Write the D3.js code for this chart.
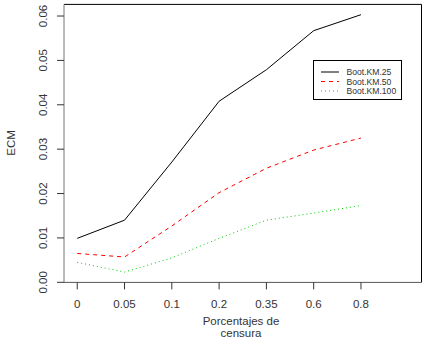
<!DOCTYPE html>
<html>
<head>
<meta charset="utf-8">
<script src="https://cdn.jsdelivr.net/npm/d3@7"></script>
<style>
  body { margin: 0; background: #fff; }
  text { font-family: "Liberation Sans", Arial, sans-serif; }
</style>
</head>
<body>
<div class="chart"></div>
<script>
// ECM vs censoring percentage

const width = 426
const height = 340

const censura = ['0', '0.05', '0.1', '0.2', '0.35', '0.6', '0.8']
const km25 = [0.0099, 0.0140, 0.0271, 0.0408, 0.0479, 0.0567, 0.0603]
const km50 = [0.0065, 0.0057, 0.0127, 0.0202, 0.0257, 0.0298, 0.0325]
const km100 = [0.0045, 0.0023, 0.0055, 0.0099, 0.0140, 0.0156, 0.0173]
const yTicks = [0, 0.01, 0.02, 0.03, 0.04, 0.05, 0.06]

const series = [
    {name: 'Boot.KM.25', values: km25, color: '#000', dash: null},
    {name: 'Boot.KM.50', values: km50, color: '#ff0000', dash: '4,4'},
    {name: 'Boot.KM.100', values: km100, color: '#00cd00', dash: '1,3'}
]

const plotL = 64, plotR = 421.5, plotT = 4.4, plotB = 282.4

const svg = d3.select('.chart')
    .append('svg')
    .attr('width', width)
    .attr('height', height)

// x runs 1..n+1 (room for the legend), R style 4% padding
const n = censura.length
const xPad = n * 0.04
const x = d3.scaleLinear()
    .domain([1 - xPad, n + 1 + xPad])
    .range([plotL, plotR])

const allY = km25.concat(km50, km100)
const [yMin, yMax] = d3.extent(allY)
const yPad = (yMax - yMin) * 0.04
const y = d3.scaleLinear()
    .domain([yMin - yPad, yMax + yPad])
    .range([plotB, plotT])

const line = d3.line()
    .x((d, i) => x(i + 1))
    .y(d => y(d))

series.forEach(s => {
    svg.append('path')
        .datum(s.values)
        .attr('d', line)
        .attr('fill', 'none')
        .attr('stroke', s.color)
        .attr('stroke-width', 1)
        .attr('stroke-dasharray', s.dash)
})

// box
svg.append('line').attr('x1', plotL).attr('x2', plotR).attr('y1', plotT).attr('y2', plotT).attr('stroke', '#000')
svg.append('line').attr('x1', plotR).attr('x2', plotR).attr('y1', plotT).attr('y2', plotB).attr('stroke', '#000')
svg.append('line').attr('x1', plotL).attr('x2', plotR).attr('y1', plotB).attr('y2', plotB).attr('stroke', '#555')
svg.append('line').attr('x1', plotL).attr('x2', plotL).attr('y1', plotT).attr('y2', plotB).attr('stroke', '#777')

// y axis
const yAxis = svg.append('g')
yAxis.selectAll('line')
    .data(yTicks)
    .enter().append('line')
      .attr('x1', plotL - 7).attr('x2', plotL)
      .attr('y1', d => y(d)).attr('y2', d => y(d))
      .attr('stroke', '#333')
yAxis.selectAll('text')
    .data(yTicks)
    .enter().append('text')
      .attr('transform', d => `translate(46.5, ${y(d)}) rotate(-90)`)
      .attr('text-anchor', 'middle')
      .attr('font-size', 11.5)
      .attr('fill', '#333')
      .text(d => d3.format('.2f')(d))

// x axis
const xAxis = svg.append('g')
xAxis.selectAll('line')
    .data(censura)
    .enter().append('line')
      .attr('x1', (d, i) => x(i + 1)).attr('x2', (d, i) => x(i + 1))
      .attr('y1', plotB).attr('y2', plotB + 7)
      .attr('stroke', '#333')
xAxis.selectAll('text')
    .data(censura)
    .enter().append('text')
      .attr('x', (d, i) => x(i + 1))
      .attr('y', 308)
      .attr('text-anchor', 'middle')
      .attr('font-size', 11.5)
      .attr('fill', '#333')
      .text(d => d)

svg.append('text')
    .attr('x', 241).attr('y', 325)
    .attr('text-anchor', 'middle')
    .attr('font-size', 11.5)
    .attr('fill', '#333')
    .text('Porcentajes de')
svg.append('text')
    .attr('x', 241).attr('y', 337)
    .attr('text-anchor', 'middle')
    .attr('font-size', 11.5)
    .attr('fill', '#333')
    .text('censura')

svg.append('text')
    .attr('transform', 'translate(14.5, 143) rotate(-90)')
    .attr('text-anchor', 'middle')
    .attr('font-size', 11.5)
    .attr('fill', '#333')
    .text('ECM')

// legend
const legend = svg.append('g').attr('transform', 'translate(313, 60)')
legend.append('rect')
    .attr('x', 0.5).attr('y', 0.5)
    .attr('width', 88).attr('height', 39)
    .attr('fill', '#fff')
    .attr('stroke', '#000')
const items = legend.selectAll('g.item')
    .data(series)
    .enter().append('g')
      .attr('transform', (d, i) => `translate(0, ${12 + i * 9.5})`)
items.append('line')
    .attr('x1', 8).attr('x2', 26)
    .attr('stroke', d => d.color)
    .attr('stroke-dasharray', d => d.dash)
items.append('text')
    .attr('x', 33.5).attr('y', 3)
    .attr('font-size', 8.6)
    .attr('fill', '#333')
    .text(d => d.name)
</script>
</body>
</html>
